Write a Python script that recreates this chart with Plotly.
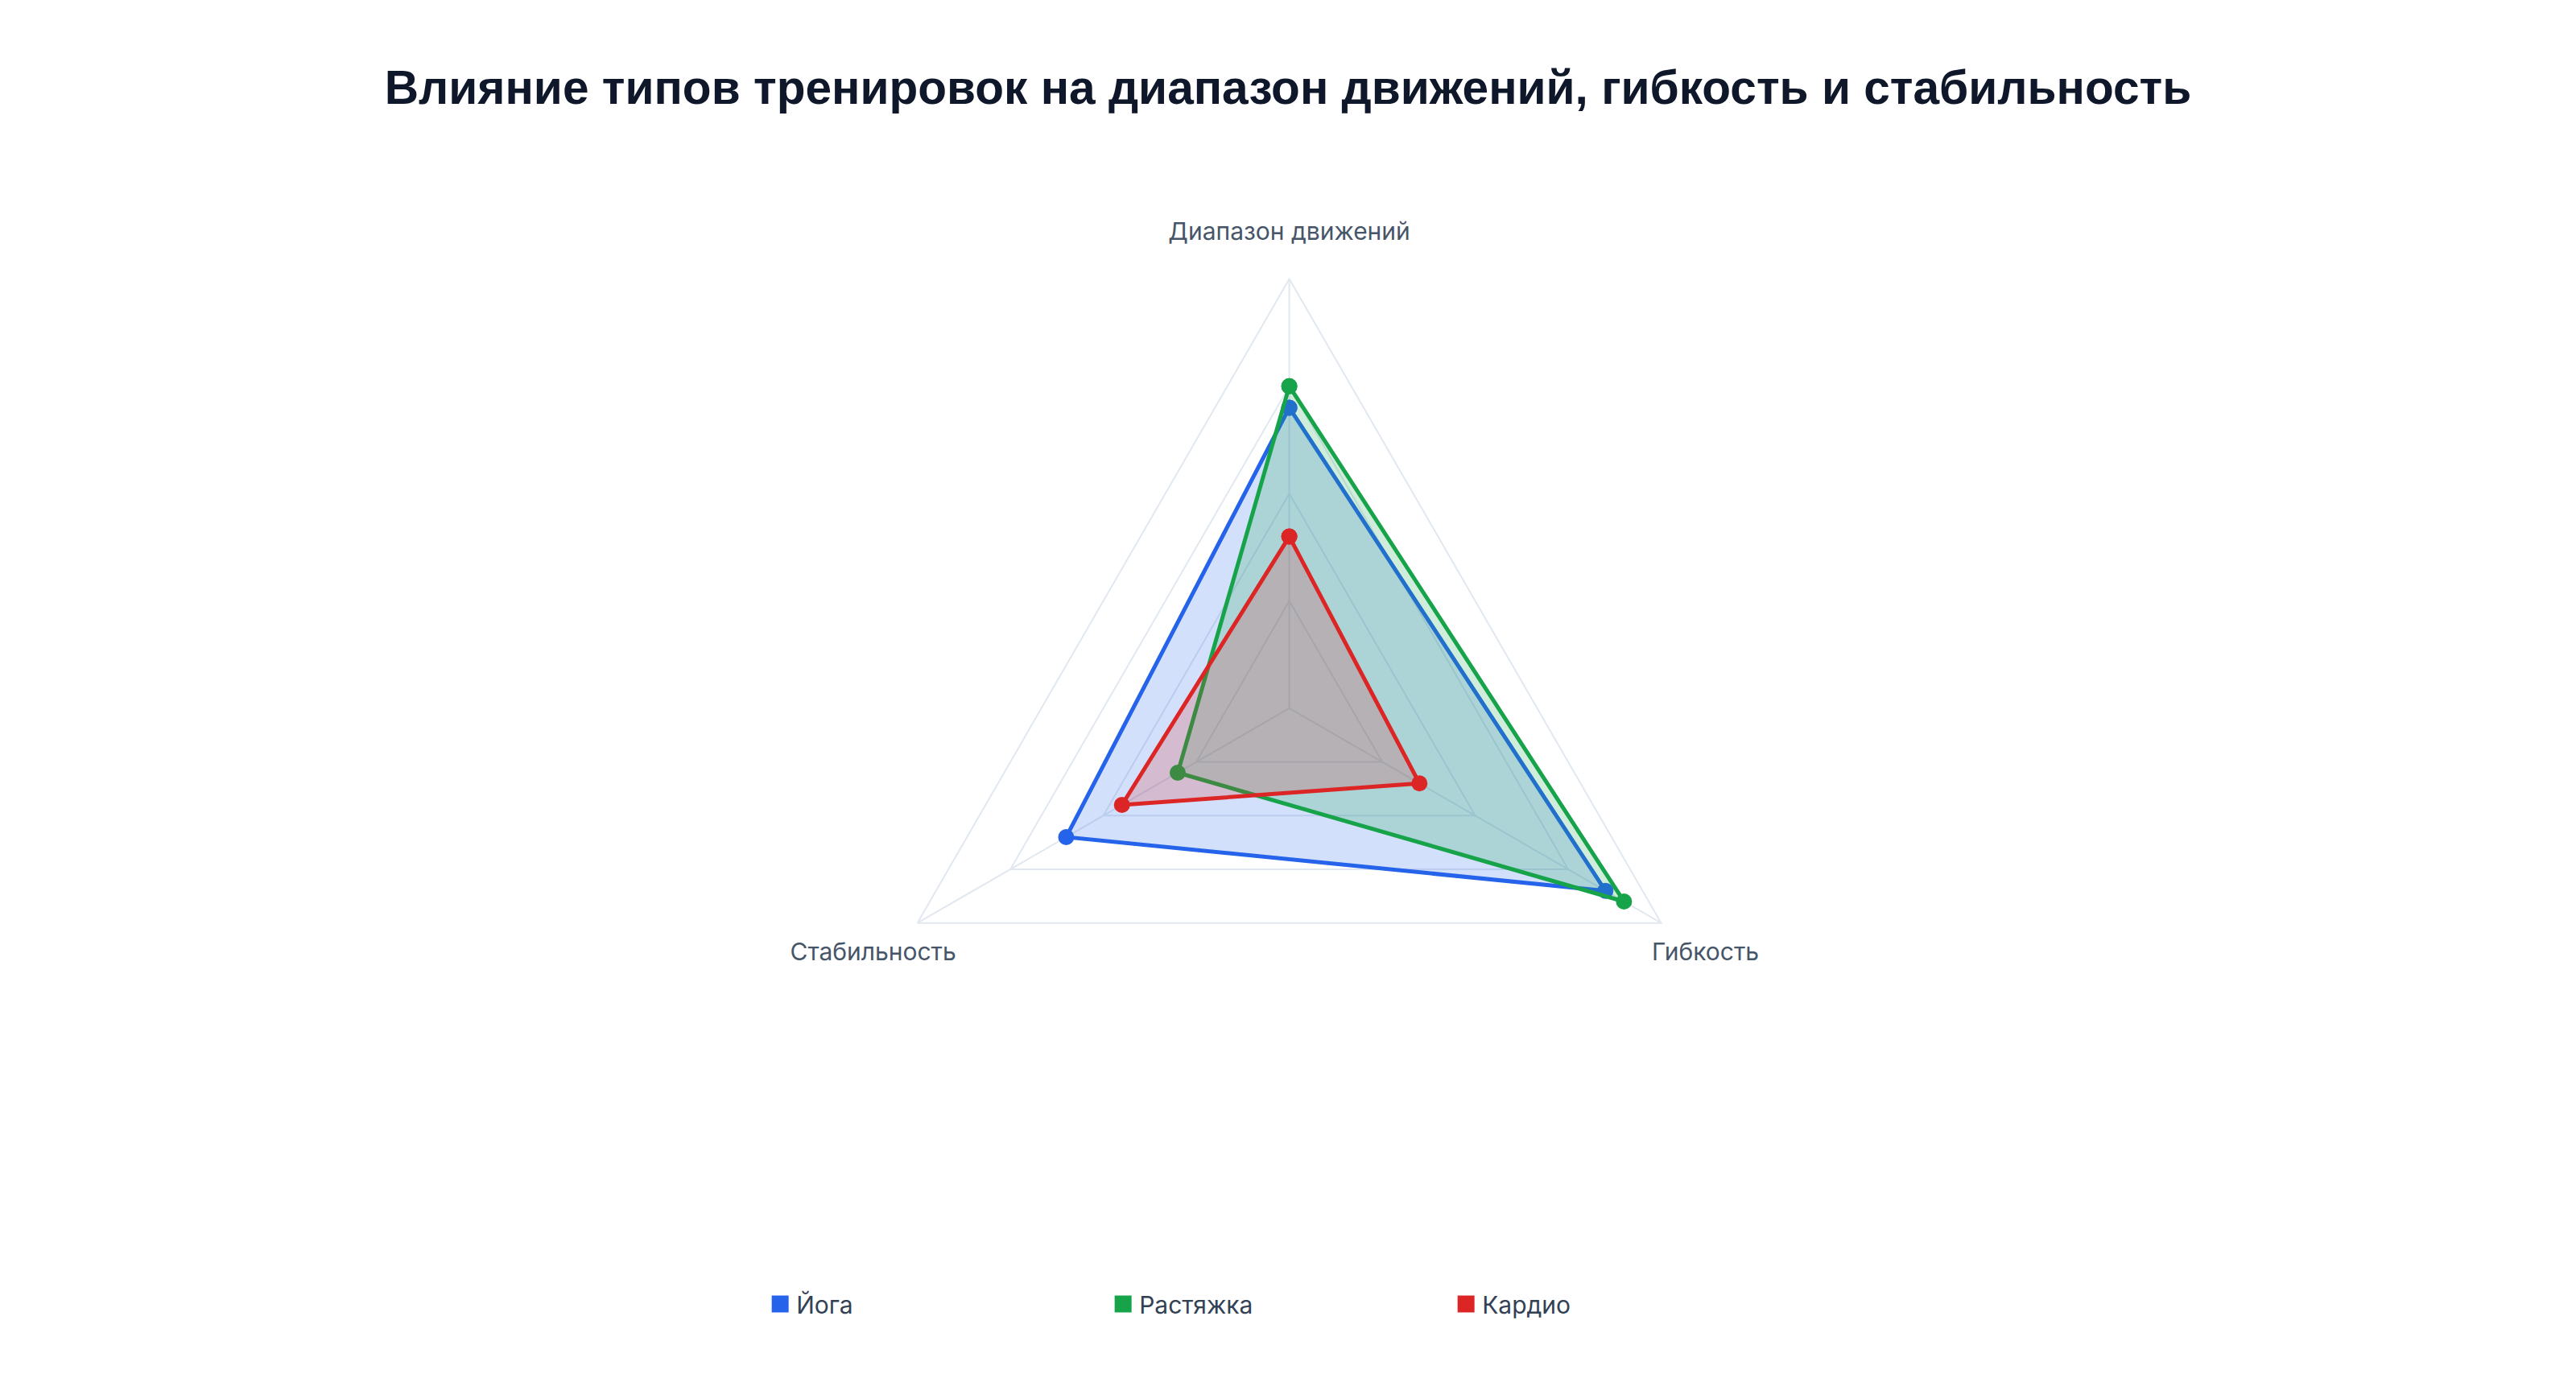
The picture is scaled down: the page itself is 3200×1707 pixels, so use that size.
import plotly.graph_objects as go

# axes of the radar and the three training types
categories = ["Диапазон движений", "Гибкость", "Стабильность"]
series_names = ["Йога", "Растяжка", "Кардио"]
yoga = [70, 85, 60]
stretch = [75, 90, 30]
cardio = [40, 35, 45]

colors = ["#2563eb", "#16a34a", "#dc2626"]
fills = ["rgba(37,99,235,0.2)", "rgba(22,163,74,0.2)", "rgba(220,38,38,0.2)"]

fig = go.Figure()

for name, vals, col, fc in zip(series_names, [yoga, stretch, cardio], colors, fills):
    # close the polygon
    fig.add_trace(go.Scatterpolar(
        r=vals + vals[:1],
        theta=categories + categories[:1],
        name=name,
        mode="lines+markers",
        fill="toself",
        fillcolor=fc,
        line=dict(color=col, width=5),
        marker=dict(color=col, size=20),
        showlegend=False,
    ))

# category labels: centred on each spoke, on a hidden, slightly larger polar
fig.add_trace(go.Scatterpolar(
    r=[100] * len(categories),
    theta=categories,
    mode="text",
    text=categories,
    textposition="middle center",
    textfont=dict(size=30, color="#475569"),
    cliponaxis=False,
    hoverinfo="skip",
    showlegend=False,
    subplot="polar2",
))

# legend-only entries (solid squares)
for name, col in zip(series_names, colors):
    fig.add_trace(go.Scatterpolar(
        r=[None], theta=[categories[0]],
        name=name,
        mode="markers",
        marker=dict(color=col, size=16, symbol="square", line=dict(color=col, width=5)),
        showlegend=True,
    ))

cy = 0.4892
half = 0.3125
label_scale = 1.119
cy2 = cy - 0.0041

fig.update_layout(
    width=3200,
    height=1707,
    paper_bgcolor="white",
    plot_bgcolor="white",
    margin=dict(l=0, r=0, t=0, b=0),
    font=dict(family="Inter, Liberation Sans, Arial", color="#475569", size=30),
    title=dict(
        text="Влияние типов тренировок на диапазон движений, гибкость и стабильность",
        x=0.4975, xanchor="center",
        y=0.9414, yanchor="middle",
        font=dict(family="Liberation Sans, Arial", size=58.6, color="#0f172a", weight="bold"),
    ),
    polar=dict(
        domain=dict(x=[0.298, 0.698], y=[cy - half, cy + half]),
        bgcolor="white",
        gridshape="linear",
        radialaxis=dict(
            range=[0, 100], dtick=25, showticklabels=False, ticks="",
            showline=False, gridcolor="#e2e8f0", gridwidth=2,
        ),
        angularaxis=dict(
            direction="clockwise", rotation=90,
            showline=True, linecolor="#e2e8f0", linewidth=2,
            gridcolor="#e2e8f0", gridwidth=2,
            ticks="", showticklabels=False,
        ),
    ),
    polar2=dict(
        domain=dict(x=[0.248, 0.748],
                    y=[cy2 - half * label_scale, cy2 + half * label_scale]),
        bgcolor="rgba(0,0,0,0)",
        gridshape="linear",
        radialaxis=dict(range=[0, 100], visible=False),
        angularaxis=dict(
            direction="clockwise", rotation=90, visible=False,
            categoryarray=categories, categoryorder="array",
        ),
    ),
    legend=dict(
        orientation="h",
        x=0.4938, xanchor="center",
        y=0.0557, yanchor="middle",
        entrywidth=381,
        font=dict(size=30, color="#334155"),
    ),
)

fig.write_html("out.html")
